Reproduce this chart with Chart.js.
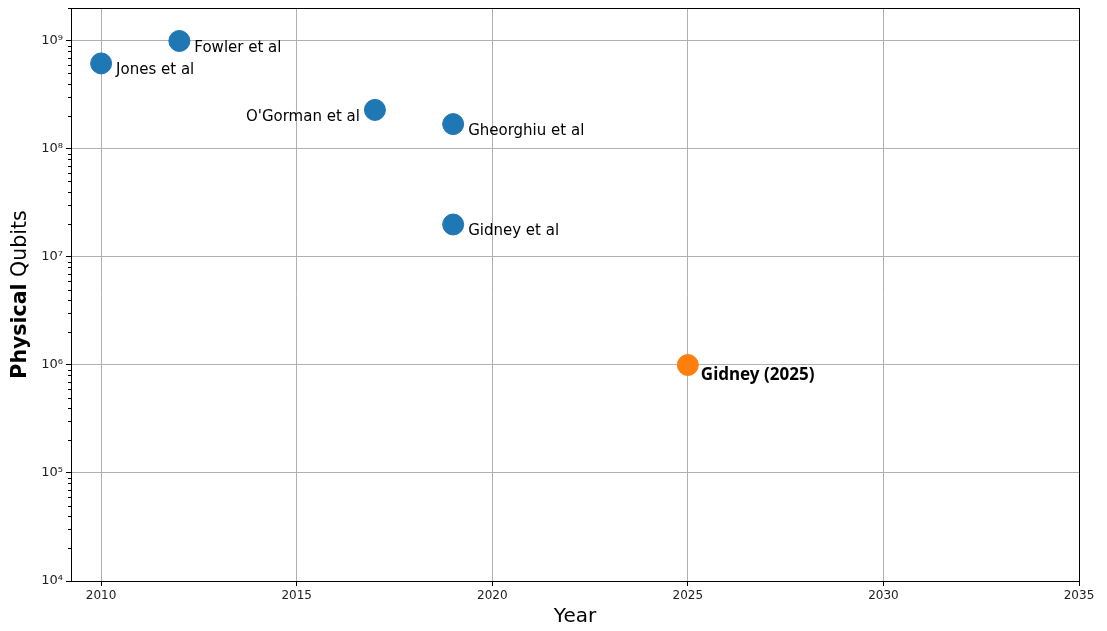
<html>
<head>
<script src="https://cdn.jsdelivr.net/npm/chart.js"></script>
<style>
  body { margin: 0; background: #fff; }
  #wrap { width: 1107px; height: 631px; }
</style>
</head>
<body>
<div id="wrap"><canvas id="myChart" width="1107" height="631"></canvas></div>
<script>
// data
var names  = ["Jones et al", "Fowler et al", "O'Gorman et al", "Gheorghiu et al", "Gidney et al"];
var years  = [2010, 2012, 2017, 2019, 2019];
var qubits = [6.2e8, 1.0e9, 2.3e8, 1.7e8, 2.0e7];

var newName  = ["Gidney (2025)"];
var newYear  = [2025];
var newQubit = [1.0e6];

var xTicks = [2010, 2015, 2020, 2025, 2030, 2035];
var yTicks = [1e4, 1e5, 1e6, 1e7, 1e8, 1e9];

// label placement: which side of the point the text goes
var labelLeft = {"O'Gorman et al": true};

var SUP = {"0":"\u2070","1":"\u00b9","2":"\u00b2","3":"\u00b3","4":"\u2074","5":"\u2075","6":"\u2076","7":"\u2077","8":"\u2078","9":"\u2079"};
function sup(n) {
  return String(n).split("").map(function (c) { return SUP[c]; }).join("");
}

function pts(xs, ys) {
  return xs.map(function (x, i) { return {x: x, y: ys[i]}; });
}

var extras = {
  id: "extras",
  afterDraw: function (chart) {
    var ctx = chart.ctx;
    var a = chart.chartArea;
    var ys = chart.scales.y;
    ctx.save();

    // minor ticks on the log axis
    ctx.strokeStyle = "#000";
    ctx.lineWidth = 1;
    for (var e = 4; e <= 9; e++) {
      for (var m = 2; m <= 9; m++) {
        var v = m * Math.pow(10, e);
        if (v > ys.max) continue;
        var py = Math.round(ys.getPixelForValue(v)) + 0.5;
        ctx.beginPath();
        ctx.moveTo(a.left - 3, py);
        ctx.lineTo(a.left, py);
        ctx.stroke();
      }
    }

    // frame
    ctx.strokeStyle = "#000";
    ctx.lineWidth = 1;
    ctx.strokeRect(Math.round(a.left) + 0.5, Math.round(a.top) + 0.5,
                   Math.round(a.right - a.left), Math.round(a.bottom - a.top));

    // point labels
    ctx.fillStyle = "#000";
    ctx.textBaseline = "middle";
    var m0 = chart.getDatasetMeta(0);
    ctx.font = "15px 'DejaVu Sans'";
    m0.data.forEach(function (p, i) {
      if (labelLeft[names[i]]) {
        ctx.textAlign = "right";
        ctx.fillText(names[i], p.x - 15, p.y + 7);
      } else {
        ctx.textAlign = "left";
        ctx.fillText(names[i], p.x + 15, p.y + 7);
      }
    });
    var m1 = chart.getDatasetMeta(1);
    ctx.font = "bold 17px 'Noto Sans'";
    ctx.textAlign = "left";
    m1.data.forEach(function (p, i) {
      ctx.fillText(newName[i], p.x + 13, p.y + 10);
    });

    // axis titles
    ctx.textAlign = "center";
    ctx.font = "20px 'DejaVu Sans'";
    ctx.fillText("Year", (a.left + a.right) / 2, a.bottom + 36);

    ctx.translate(21, (a.top + a.bottom) / 2);
    ctx.rotate(-Math.PI / 2);
    ctx.textAlign = "left";
    var b = "Physical", r = " Qubits";
    ctx.font = "bold 20.5px 'DejaVu Sans'";
    var wb = ctx.measureText(b).width;
    ctx.font = "20.5px 'DejaVu Sans'";
    var wr = ctx.measureText(r).width;
    var x0 = -(wb + wr) / 2;
    ctx.font = "bold 20.5px 'DejaVu Sans'";
    ctx.fillText(b, x0, 0);
    ctx.font = "20.5px 'DejaVu Sans'";
    ctx.fillText(r, x0 + wb, 0);
    ctx.restore();
  }
};

var ctx = document.getElementById("myChart").getContext("2d");
var myChart = new Chart(ctx, {
  type: "scatter",
  data: {
    datasets: [{
      data: pts(years, qubits),
      backgroundColor: "#1f77b4",
      borderColor: "#1f77b4",
      borderWidth: 1,
      pointRadius: 10.5,
      pointHoverRadius: 10.5
    }, {
      data: pts(newYear, newQubit),
      backgroundColor: "#ff7f0e",
      borderColor: "#ff7f0e",
      borderWidth: 1,
      pointRadius: 10.5,
      pointHoverRadius: 10.5
    }]
  },
  options: {
    responsive: false,
    animation: false,
    devicePixelRatio: 1,
    layout: { autoPadding: false, padding: { top: 8, right: 28, left: 0, bottom: 0 } },
    plugins: { legend: { display: false }, tooltip: { enabled: false } },
    scales: {
      x: {
        type: "linear",
        min: 2009.23,
        max: 2035,
        afterBuildTicks: function (s) { s.ticks = xTicks.map(function (v) { return {value: v}; }); },
        afterFit: function (s) { s.height = 50; s.paddingLeft = 0; s.paddingRight = 0; },
        border: { display: false },
        grid: { color: "#b0b0b0", lineWidth: 1, tickLength: 5, tickColor: "#000" },
        ticks: {
          color: "#222",
          font: { family: "DejaVu Sans", size: 12 },
          padding: 3,
          maxRotation: 0,
          callback: function (v) { return String(v); }
        }
      },
      y: {
        type: "logarithmic",
        min: 1e4,
        max: 2.02e9,
        afterBuildTicks: function (s) { s.ticks = yTicks.map(function (v) { return {value: v}; }); },
        afterFit: function (s) { s.width = 71; s.paddingTop = 0; s.paddingBottom = 0; },
        border: { display: false },
        grid: { color: "#b0b0b0", lineWidth: 1, tickLength: 5, tickColor: "#000" },
        ticks: {
          color: "#222",
          font: { family: "DejaVu Sans", size: 13 },
          padding: 3,
          callback: function (v) { return "10" + sup(Math.round(Math.log10(v))); }
        }
      }
    }
  },
  plugins: [extras]
});
</script>
</body>
</html>
